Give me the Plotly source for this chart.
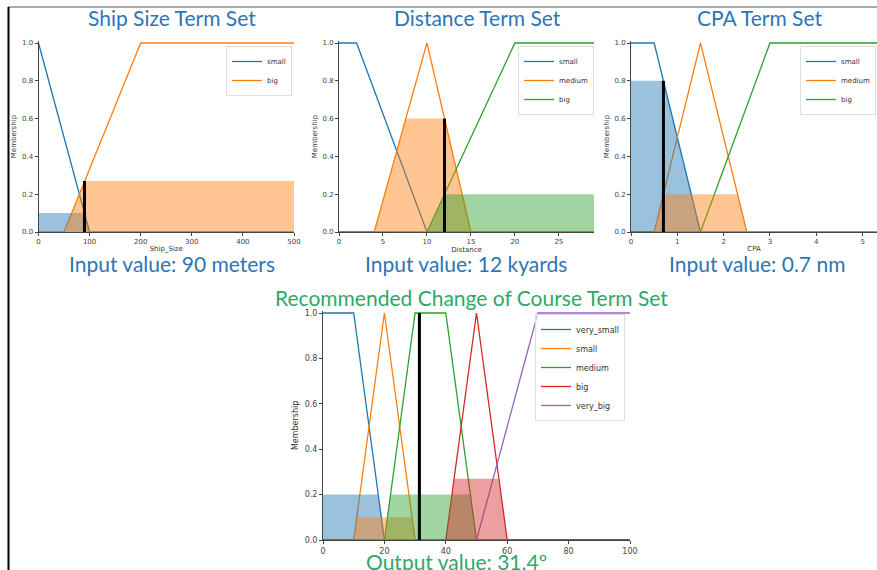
import plotly.graph_objects as go

W, H = 877, 570

# ---------------- data ----------------
# Ship size (meters)
ship_terms = ["small", "big"]
ship_mf_x = {"small": [0, 100, 500], "big": [0, 50, 200, 500]}
ship_mf_y = {"small": [1, 0, 0], "big": [0, 0, 1, 1]}
ship_fill_x = {"small": [0, 90, 100], "big": [50, 90, 500]}
ship_fill_y = {"small": [0.1, 0.1, 0], "big": [0, 0.27, 0.27]}
ship_crisp = 90
ship_crisp_h = 0.27

# Distance (kyards)
dist_terms = ["small", "medium", "big"]
dist_mf_x = {"small": [0, 2, 10, 29], "medium": [0, 4, 10, 15, 29], "big": [0, 10, 20, 29]}
dist_mf_y = {"small": [1, 1, 0, 0], "medium": [0, 0, 1, 0, 0], "big": [0, 0, 1, 1]}
dist_fill_x = {"medium": [4, 7.6, 12, 15], "big": [10, 12, 29]}
dist_fill_y = {"medium": [0, 0.6, 0.6, 0], "big": [0, 0.2, 0.2]}
dist_crisp = 12
dist_crisp_h = 0.6

# CPA (nm)
cpa_terms = ["small", "medium", "big"]
cpa_mf_x = {"small": [0, 0.5, 1.5, 6], "medium": [0, 0.5, 1.5, 2.5, 6], "big": [0, 1.5, 3, 6]}
cpa_mf_y = {"small": [1, 1, 0, 0], "medium": [0, 0, 1, 0, 0], "big": [0, 0, 1, 1]}
cpa_fill_x = {"small": [0, 0.7, 1.5], "medium": [0.5, 0.7, 2.3, 2.5]}
cpa_fill_y = {"small": [0.8, 0.8, 0], "medium": [0, 0.2, 0.2, 0]}
cpa_crisp = 0.7
cpa_crisp_h = 0.8

# Recommended change of course (degrees)
course_terms = ["very_small", "small", "medium", "big", "very_big"]
course_mf_x = {"very_small": [0, 10, 20, 100], "small": [0, 10, 20, 30, 100],
               "medium": [0, 20, 30, 40, 50, 100], "big": [0, 40, 50, 60, 100],
               "very_big": [0, 50, 70, 100]}
course_mf_y = {"very_small": [1, 1, 0, 0], "small": [0, 0, 1, 0, 0],
               "medium": [0, 0, 1, 1, 0, 0], "big": [0, 0, 1, 0, 0],
               "very_big": [0, 0, 1, 1]}
course_fill_x = {"very_small": [0, 18, 20], "small": [10, 11, 29, 30],
                 "medium": [20, 22, 48, 50], "big": [40, 42.7, 57.3, 60]}
course_fill_y = {"very_small": [0.2, 0.2, 0], "small": [0, 0.1, 0.1, 0],
                 "medium": [0, 0.2, 0.2, 0], "big": [0, 0.27, 0.27, 0]}
course_crisp = 31.4
course_crisp_h = 1.0

ship_ticks = [0, 100, 200, 300, 400, 500]
dist_ticks = [0, 5, 10, 15, 20, 25]
cpa_ticks = [0, 1, 2, 3, 4, 5]
course_ticks = [0, 20, 40, 60, 80, 100]
member_ticks = [0.0, 0.2, 0.4, 0.6, 0.8, 1.0]

# ---------------- styling ----------------
colors = ["#1f77b4", "#ff7f0e", "#2ca02c", "#d62728", "#9467bd"]
fill_colors = ["rgba(31,119,180,0.45)", "rgba(255,127,14,0.45)", "rgba(44,160,44,0.45)",
               "rgba(214,39,40,0.45)", "rgba(148,103,189,0.45)"]
BLUE_TXT = "#2e75b6"
GREEN_TXT = "#2ea86a"
TXT_FONT = "Lato, 'Open Sans', sans-serif"
TICK_FONT = "DejaVu Sans"


def px(xp):
    return xp / W


def py(yp):
    return 1 - yp / H


fig = go.Figure()

panels = [
    ("", ship_terms, ship_mf_x, ship_mf_y, ship_fill_x, ship_fill_y, ship_crisp, ship_crisp_h,
     ship_ticks, [0, 500], "Ship_Size", 38.5, 294, 43, 232, "legend", 7),
    ("2", dist_terms, dist_mf_x, dist_mf_y, dist_fill_x, dist_fill_y, dist_crisp, dist_crisp_h,
     dist_ticks, [0, 29], "Distance", 339, 594, 43, 232, "legend2", 7),
    ("3", cpa_terms, cpa_mf_x, cpa_mf_y, cpa_fill_x, cpa_fill_y, cpa_crisp, cpa_crisp_h,
     cpa_ticks, [0, 5.31], "CPA", 631, 877, 43, 232, "legend3", 7),
    ("4", course_terms, course_mf_x, course_mf_y, course_fill_x, course_fill_y, course_crisp, course_crisp_h,
     course_ticks, [0, 100], "", 323, 630, 313, 540, "legend4", 8),
]

layout_axes = {}
for (suf, terms, mfx, mfy, fx, fy, crisp, crisp_h, ticks, xr, xlabel,
     x0p, x1p, y1p, y0p, leg, fs) in panels:
    xa, ya = "x" + suf, "y" + suf
    for i, t in enumerate(terms):
        fig.add_trace(go.Scatter(x=mfx[t], y=mfy[t], mode="lines", name=t,
                                 line=dict(color=colors[i], width=1.3),
                                 xaxis=xa, yaxis=ya, legend=leg))
    for i, t in enumerate(terms):
        if t in fx:
            fig.add_trace(go.Scatter(x=fx[t], y=fy[t], mode="lines", fill="tozeroy",
                                     fillcolor=fill_colors[i], line=dict(width=0),
                                     showlegend=False, hoverinfo="skip",
                                     xaxis=xa, yaxis=ya))
    fig.add_trace(go.Scatter(x=[crisp, crisp], y=[0, crisp_h], mode="lines",
                             line=dict(color="black", width=3), showlegend=False,
                             xaxis=xa, yaxis=ya))
    unit = y0p - y1p
    top = y1p - 0.01 * unit
    common_tick = dict(ticks="outside", ticklen=3, tickwidth=1, tickcolor="#444",
                       tickfont=dict(family=TICK_FONT, size=fs, color="#444"),
                       showline=True, linecolor="#444", linewidth=1,
                       showgrid=False, zeroline=False)
    layout_axes["xaxis" + suf] = dict(domain=[px(x0p), px(x1p)], range=xr, anchor=ya,
                                      tickmode="array", tickvals=ticks,
                                      title=dict(text=xlabel, standoff=0,
                                                 font=dict(family=TICK_FONT, size=7, color="#333")),
                                      **common_tick)
    layout_axes["yaxis" + suf] = dict(domain=[py(y0p), py(top)], range=[0, 1.01], anchor=xa,
                                      tickmode="array", tickvals=member_ticks, tickformat=".1f",
                                      title=dict(text="Membership", standoff=4,
                                                 font=dict(family=TICK_FONT, size=fs, color="#333")),
                                      **common_tick)

legend_common = dict(bgcolor="rgba(255,255,255,0.6)", bordercolor="#dddddd", borderwidth=1,
                     xanchor="right", yanchor="top", tracegroupgap=0, itemwidth=30,
                     font=dict(family=TICK_FONT, size=7, color="#333"))

annotations = [
    dict(text="Ship Size Term Set", x=px(172), y=py(18), color=BLUE_TXT, size=21),
    dict(text="Distance Term Set", x=px(477), y=py(18), color=BLUE_TXT, size=21),
    dict(text="CPA Term Set", x=px(759), y=py(18), color=BLUE_TXT, size=21),
    dict(text="Input value: 90 meters", x=px(172), y=py(263), color=BLUE_TXT, size=21),
    dict(text="Input value: 12 kyards", x=px(466), y=py(263), color=BLUE_TXT, size=21),
    dict(text="Input value: 0.7 nm", x=px(757), y=py(263), color=BLUE_TXT, size=21),
    dict(text="Recommended Change of Course Term Set", x=px(471), y=py(297), color=GREEN_TXT, size=21),
    dict(text="Output value: 31.4º", x=px(456), y=py(561), color=GREEN_TXT, size=21),
]

fig.update_layout(
    width=W, height=H,
    margin=dict(l=0, r=0, t=0, b=0, autoexpand=False),
    paper_bgcolor="white", plot_bgcolor="white",
    showlegend=True,
    legend=dict(x=px(292), y=py(46), **legend_common),
    legend2=dict(x=px(594), y=py(46), **legend_common),
    legend3=dict(x=px(876), y=py(46), **legend_common),
    legend4=dict(x=px(625), y=py(314), **{**legend_common,
                                          "font": dict(family=TICK_FONT, size=8, color="#333")}),
    annotations=[dict(text=a["text"], x=a["x"], y=a["y"], xref="paper", yref="paper",
                      showarrow=False, xanchor="center", yanchor="middle",
                      font=dict(family=TXT_FONT, size=a["size"], color=a["color"]))
                 for a in annotations],
    shapes=[
        dict(type="line", xref="paper", yref="paper", x0=px(8), x1=1, y0=py(7), y1=py(7),
             line=dict(color="#555555", width=1)),
        dict(type="line", xref="paper", yref="paper", x0=px(8.5), x1=px(8.5), y0=py(7), y1=0,
             line=dict(color="black", width=2)),
    ],
    **layout_axes,
)

fig.write_html("out.html",
               config={"displayModeBar": False},
               post_script="document.body.style.margin='0';document.body.style.overflow='hidden';")
